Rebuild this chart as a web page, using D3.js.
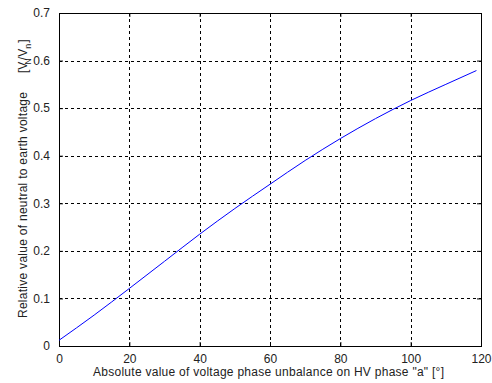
<!DOCTYPE html>
<html>
<head>
<meta charset="utf-8">
<script src="https://cdn.jsdelivr.net/npm/d3@7"></script>
<style>
  body { margin: 0; background: #fff; }
  svg { display: block; font-family: "Liberation Sans", Arial, sans-serif; }
</style>
</head>
<body>
<div id="container"></div>
<script>
// unbalance angle on HV phase "a" [deg]
const angles = [0, 10, 20, 30, 40, 50, 60, 70, 80, 90, 100, 110, 118.7];
// relative neutral-to-earth voltage
const voltages = [0.012, 0.065, 0.121, 0.178, 0.235, 0.289, 0.340, 0.390, 0.436, 0.478, 0.516, 0.550, 0.579];
const xTicks = [0, 20, 40, 60, 80, 100, 120];
const yTicks = [0, 0.1, 0.2, 0.3, 0.4, 0.5, 0.6, 0.7];

const width = 492;
const height = 383;
const margin = { top: 13, right: 11, bottom: 37, left: 59 };

const svg = d3.select("#container").append("svg")
    .attr("width", width)
    .attr("height", height);

const x = d3.scaleLinear().domain([0, 120]).range([margin.left, width - margin.right]);
const y = d3.scaleLinear().domain([0, 0.7]).range([height - margin.bottom, margin.top]);

// grid lines
const grid = svg.append("g")
    .attr("stroke", "#000")
    .attr("stroke-width", 1)
    .attr("stroke-dasharray", "3,3")
    .attr("shape-rendering", "crispEdges");

grid.selectAll(".gx")
    .data(xTicks.slice(1, -1))
    .join("line")
    .attr("x1", d => Math.round(x(d)) + 0.5)
    .attr("x2", d => Math.round(x(d)) + 0.5)
    .attr("y1", y(0.7))
    .attr("y2", y(0));

grid.selectAll(".gy")
    .data(yTicks.slice(1, -1))
    .join("line")
    .attr("x1", x(0))
    .attr("x2", x(120))
    .attr("y1", d => Math.round(y(d)) + 0.5)
    .attr("y2", d => Math.round(y(d)) + 0.5);

// axes (ticks pointing inward)
const xAxis = d3.axisBottom(x).tickValues(xTicks).tickSize(-4).tickPadding(8).tickFormat(d3.format("d"));
const yAxis = d3.axisLeft(y).tickValues(yTicks).tickSize(-4).tickPadding(9).tickFormat(d => d === 0 ? "0" : d3.format(".1f")(d));

svg.append("g")
    .attr("transform", `translate(0,${y(0)})`)
    .call(xAxis);
svg.append("g")
    .attr("transform", `translate(${x(0)},0)`)
    .call(yAxis);

// top / right inward ticks
svg.append("g")
    .attr("transform", `translate(0,${y(0.7)})`)
    .call(d3.axisTop(x).tickValues(xTicks).tickSize(-4).tickFormat(""));
svg.append("g")
    .attr("transform", `translate(${x(120)},0)`)
    .call(d3.axisRight(y).tickValues(yTicks).tickSize(-4).tickFormat(""));

svg.selectAll(".domain").remove();
svg.selectAll(".tick line").attr("stroke", "#000");
svg.selectAll(".tick text")
    .attr("font-size", 12)
    .attr("fill", "#222")
    .attr("font-family", "Liberation Sans, Arial, sans-serif");

// box
svg.append("rect")
    .attr("x", x(0) + 0.5)
    .attr("y", y(0.7) + 0.5)
    .attr("width", x(120) - x(0))
    .attr("height", y(0) - y(0.7))
    .attr("fill", "none")
    .attr("stroke", "#000")
    .attr("shape-rendering", "crispEdges");

// curve
const line = d3.line()
    .x((d, i) => x(angles[i]))
    .y(d => y(d))
    .curve(d3.curveMonotoneX);

svg.append("path")
    .datum(voltages)
    .attr("fill", "none")
    .attr("stroke", "#0000ff")
    .attr("stroke-width", 1)
    .attr("d", line);

// axis labels
svg.append("text")
    .attr("x", 93)
    .attr("y", 376)
    .attr("font-size", 12)
    .attr("fill", "#222")
    .attr("textLength", 351)
    .attr("lengthAdjust", "spacing")
    .text('Absolute value of voltage phase unbalance on HV phase "a" [°]');

svg.append("text")
    .attr("transform", "translate(27,318) rotate(-90)")
    .attr("font-size", 12)
    .attr("fill", "#222")
    .attr("textLength", 226)
    .attr("lengthAdjust", "spacing")
    .text("Relative value of neutral to earth voltage");

const yl = svg.append("text")
    .attr("transform", "translate(27,73) rotate(-90)")
    .attr("font-size", 12)
    .attr("fill", "#222");
yl.append("tspan").text("[V");
yl.append("tspan").attr("font-size", 9).attr("dy", 4).attr("dx", -3).text("N");
yl.append("tspan").attr("dy", -4).attr("dx", -2).text("/V");
yl.append("tspan").attr("font-size", 9).attr("dy", 4).text("n");
yl.append("tspan").attr("dy", -4).attr("dx", 1).text("]");
</script>
</body>
</html>
